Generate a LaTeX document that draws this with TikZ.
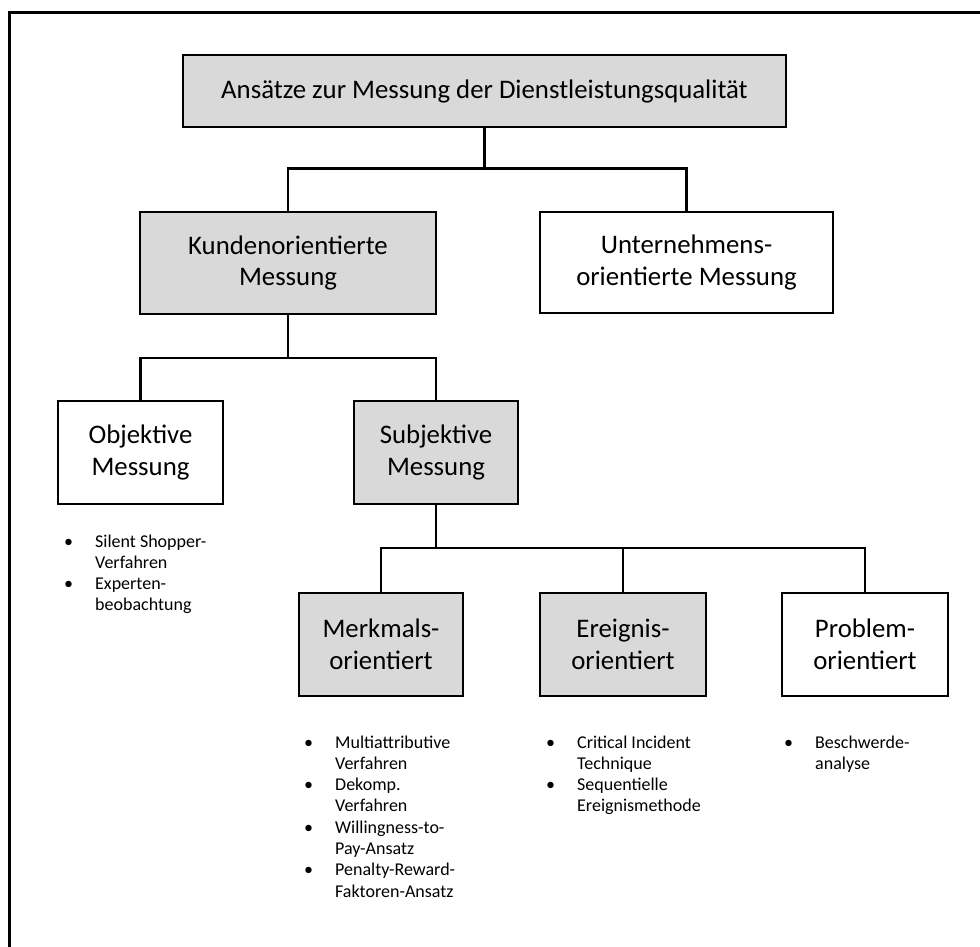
\documentclass[tikz,border=0pt]{standalone}
\usepackage{fontspec}
\setmainfont{Carlito}
\usetikzlibrary{calc}
\definecolor{boxgray}{HTML}{D9D9D9}
\newcommand{\bitem}[2]{\makebox[31pt][l]{•}&#1\\&#2\\}
\begin{document}
\begin{tikzpicture}[x=1pt,y=-1pt,
  box/.style={draw=black,line width=2.7pt,align=center,inner sep=0pt,
    font=\fontsize{26.8}{31.5}\selectfont},
  graybox/.style={box,fill=boxgray},
  whitebox/.style={box,fill=white},
  conn/.style={draw=black,line width=2.7pt},
  blist/.style={anchor=base west,inner sep=0pt,font=\fontsize{18}{21.3}\selectfont}]
\useasboundingbox (0,0) rectangle (980,946);
\fill[white] (0,0) rectangle (980,946);
% outer frame (only top and left visible)
\draw[line width=3pt] (9.5,960) -- (9.5,12) -- (995,12);

% nodes
\node[graybox,minimum width=603pt,minimum height=72pt] (top) at (484.5,91) {Ansätze zur Messung der Dienstleistungsqualität};
\node[graybox,minimum width=296pt,minimum height=102pt] (kunden) at (288,263) {Kundenorientierte\\Messung};
\node[whitebox,minimum width=293pt,minimum height=101pt] (untern) at (686.5,262.5) {Unternehmens-\\orientierte Messung};
\node[whitebox,minimum width=165pt,minimum height=103pt] (objektiv) at (140.5,452.5) {Objektive\\Messung};
\node[graybox,minimum width=164pt,minimum height=103pt] (subjektiv) at (436,452.5) {Subjektive\\Messung};
\node[graybox,minimum width=164pt,minimum height=103pt] (merkmal) at (381,644.5) {Merkmals-\\orientiert};
\node[graybox,minimum width=166pt,minimum height=103pt] (ereignis) at (623,644.5) {Ereignis-\\orientiert};
\node[whitebox,minimum width=166pt,minimum height=103pt] (problem) at (865,644.5) {Problem-\\orientiert};

% junctions
\coordinate (j1) at (484.5,168.5);
\coordinate (j2) at (288,358);
\coordinate (j3) at (436,548);

% connectors
\draw[conn] (top.south) -- (j1);
\draw[conn] (kunden.north) |- (j1) -| (untern.north);
\draw[conn] (kunden.south) -- (j2);
\draw[conn] (objektiv.north) |- (j2) -| (subjektiv.north);
\draw[conn] (subjektiv.south) -- (j3);
\draw[conn] (merkmal.north) |- (j3) -| (problem.north);
\draw[conn] (ereignis.north) -- (ereignis.north |- j3);

% bullet lists
\node[blist] (listobj) at (64,547) {\begin{tabular}[t]{@{}l@{}l@{}}\bitem{Silent Shopper-}{Verfahren}\bitem{Experten-}{beobachtung}\end{tabular}};
\node[blist] (listmerk) at (304,748) {\begin{tabular}[t]{@{}l@{}l@{}}\bitem{Multiattributive}{Verfahren}\bitem{Dekomp.}{Verfahren}\bitem{Willingness-to-}{Pay-Ansatz}\bitem{Penalty-Reward-}{Faktoren-Ansatz}\end{tabular}};
\node[blist] (listereig) at (546,748) {\begin{tabular}[t]{@{}l@{}l@{}}\bitem{Critical Incident}{Technique}\bitem{Sequentielle}{Ereignismethode}\end{tabular}};
\node[blist] (listprob) at (784,748) {\begin{tabular}[t]{@{}l@{}l@{}}\bitem{Beschwerde-}{analyse}\end{tabular}};
\end{tikzpicture}
\end{document}
